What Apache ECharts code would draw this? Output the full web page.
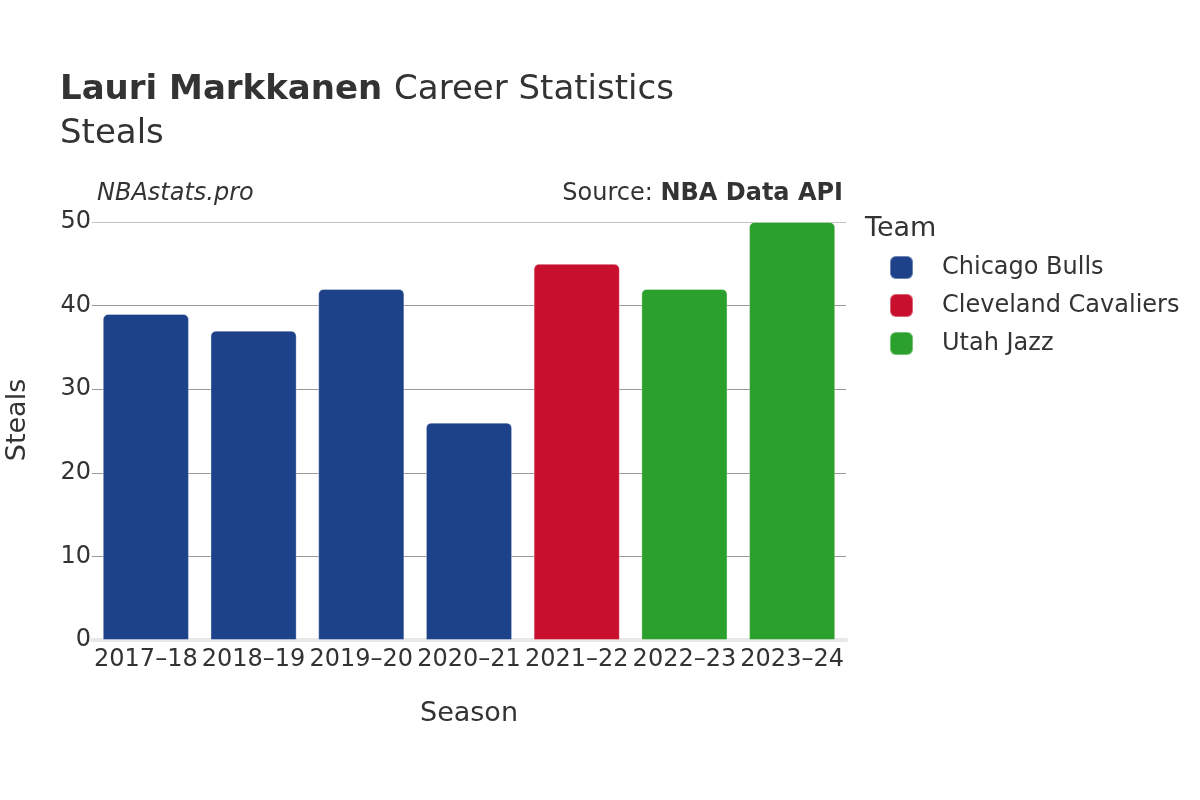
<!DOCTYPE html>
<html>
<head>
<meta charset="utf-8">
<style>
  html, body { margin: 0; padding: 0; background: #fff; }
  #chart { width: 1200px; height: 800px; }
</style>
<script src="https://cdn.jsdelivr.net/npm/echarts@6/dist/echarts.min.js"></script>
</head>
<body>
<div id="chart"></div>
<script>
  const seasons = ['2017–18', '2018–19', '2019–20', '2020–21', '2021–22', '2022–23', '2023–24']
  const teams = ['Chicago Bulls', 'Cleveland Cavaliers', 'Utah Jazz']
  const teamColors = ['#1d428a', '#c8102e', '#2ca02c']
  // which team each season belongs to, and steals for that season
  const seasonTeam = ['Chicago Bulls', 'Chicago Bulls', 'Chicago Bulls', 'Chicago Bulls', 'Cleveland Cavaliers', 'Utah Jazz', 'Utah Jazz']
  const steals = [39, 37, 42, 26, 45, 42, 50]
  const yTicks = [0, 10, 20, 30, 40, 50]

  const font = 'DejaVu Sans'
  const textColor = '#333'

  const series = teams.map((team, i) => ({
    name: team,
    type: 'bar',
    stack: 'all',
    barCategoryGap: '20%',
    itemStyle: {
      color: teamColors[i],
      borderRadius: [5, 5, 0, 0],
      borderColor: 'rgba(255,255,255,0.35)',
      borderWidth: 1
    },
    data: steals.map((v, j) => seasonTeam[j] === team ? v : '-')
  }))

  const chart = echarts.init(document.getElementById('chart'))
  chart.setOption({
    animation: false,
    backgroundColor: '#fff',
    textStyle: { fontFamily: font, color: textColor },
    title: [
      {
        left: 55, top: 63,
        text: '{b|Lauri Markkanen }{n|Career Statistics}\n{n|Steals}',
        textStyle: {
          rich: {
            b: { fontFamily: font, fontSize: 34, fontWeight: 'bold', color: textColor, lineHeight: 44 },
            n: { fontFamily: font, fontSize: 34, fontWeight: 'normal', color: textColor, lineHeight: 44 }
          }
        }
      },
      {
        left: 92, top: 177,
        text: 'NBAstats.pro',
        textStyle: { fontFamily: font, fontSize: 24, fontStyle: 'italic', fontWeight: 'normal', color: textColor }
      },
      {
        right: 352, top: 177,
        text: '{n|Source: }{b|NBA Data API}',
        textStyle: {
          rich: {
            n: { fontFamily: font, fontSize: 24, fontWeight: 'normal', color: textColor },
            b: { fontFamily: font, fontSize: 24, fontWeight: 'bold', color: textColor }
          }
        }
      },
      {
        left: 860, top: 210,
        text: 'Team',
        textStyle: { fontFamily: font, fontSize: 27, fontWeight: 'normal', color: textColor }
      }
    ],
    graphic: [{
      type: 'text',
      x: 18, y: 420,
      rotation: Math.PI / 2,
      style: {
        text: 'Steals',
        font: '27px "DejaVu Sans"',
        fill: textColor,
        align: 'center',
        verticalAlign: 'middle'
      }
    }],
    legend: {
      orient: 'vertical',
      left: 884, top: 250,
      data: teams,
      icon: 'roundRect',
      itemWidth: 23, itemHeight: 23,
      itemGap: 13,
      textStyle: { fontFamily: font, fontSize: 24, color: textColor, padding: [0, 0, 0, 24] }
    },
    grid: { left: 92, right: 354, top: 222, bottom: 160 },
    xAxis: {
      type: 'category',
      data: seasons,
      name: 'Season',
      nameLocation: 'middle',
      nameGap: 60,
      nameTextStyle: { fontFamily: font, fontSize: 27, color: textColor },
      axisLine: { show: true, lineStyle: { color: '#e8e8e8', width: 4 } },
      axisTick: { show: false },
      axisLabel: { fontFamily: font, fontSize: 24, color: textColor, margin: 8, interval: 0 }
    },
    yAxis: {
      type: 'value',
      min: 0, max: 50, interval: 10,
      axisLine: { show: false },
      axisTick: { show: false },
      axisLabel: {
        fontFamily: font, fontSize: 24, color: textColor, margin: 1,
        formatter: v => yTicks.includes(v) ? String(v) : ''
      },
      splitLine: { lineStyle: { color: ['#999', '#999', '#999', '#999', '#999', '#c4c4c4'], width: 1 } }
    },
    series: series
  })
</script>
</body>
</html>
